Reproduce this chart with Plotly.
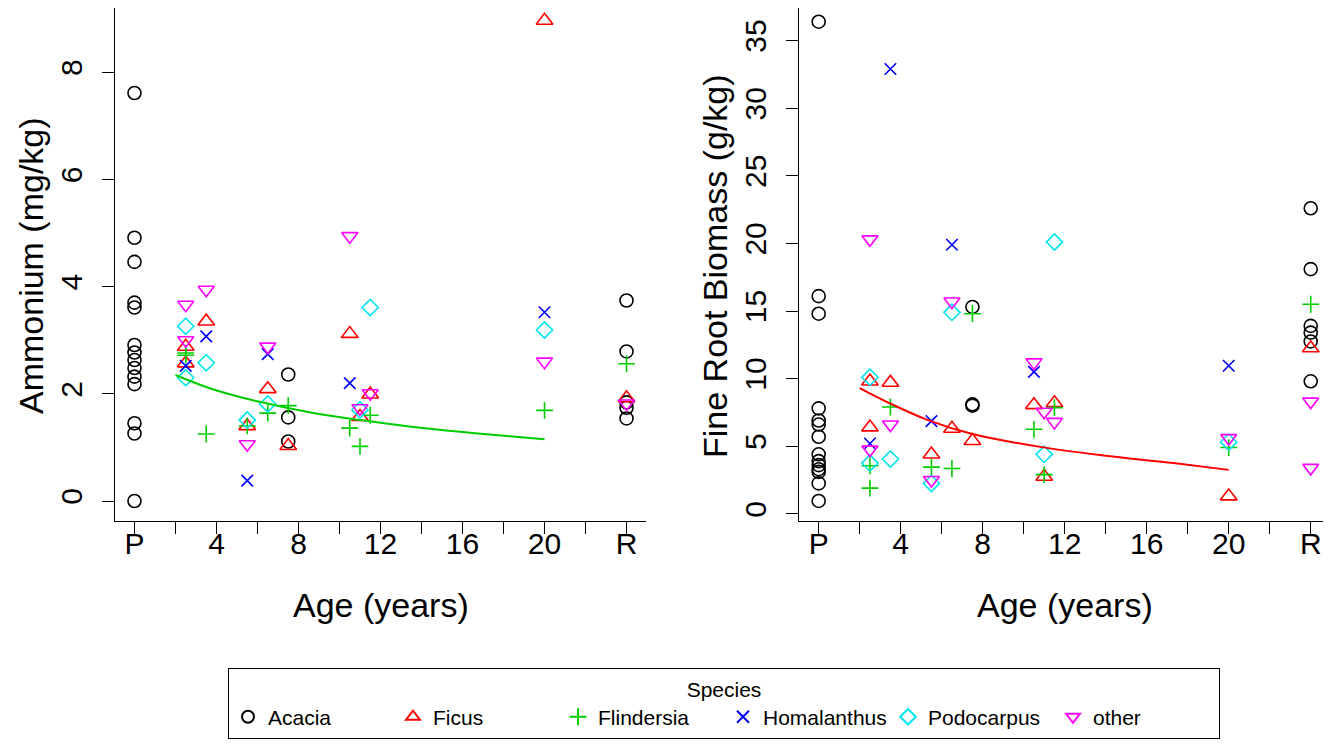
import plotly.graph_objects as go

# ---------------- data (ages: P = pasture -> 0, R = rainforest -> 24) ----------------
species = ["Acacia", "Ficus", "Flindersia", "Homalanthus", "Podocarpus", "other"]

acacia_amm_x = [0, 0, 0, 0, 0, 0, 0, 0, 0, 0, 0, 0, 0, 0, 7.5, 7.5, 7.5, 24, 24, 24, 24, 24]
acacia_amm_y = [7.61, 4.91, 4.46, 3.70, 3.61, 2.91, 2.77, 2.63, 2.48, 2.32, 2.18, 1.45, 1.26, 0.00,
                2.36, 1.56, 1.11, 3.74, 2.79, 1.84, 1.74, 1.54]
acacia_root_x = [0, 0, 0, 0, 0, 0, 0, 0, 0, 0, 0, 0, 0, 0, 7.5, 7.5, 7.5, 24, 24, 24, 24, 24, 24]
acacia_root_y = [36.4, 16.1, 14.8, 7.8, 6.9, 6.6, 5.7, 4.4, 3.9, 3.6, 3.3, 3.1, 2.25, 0.95,
                 15.3, 8.1, 8.0, 22.6, 18.1, 13.9, 13.4, 12.75, 9.8]

ficus_x = [2.5, 2.5, 3.5, 5.5, 6.5, 7.5, 10.5, 11, 11.5, 20, 24]
ficus_amm_y = [2.88, 2.57, 3.35, 1.40, 2.09, 1.03, 3.12, 1.57, 1.99, 8.96, 1.92]
ficus_root_y = [9.8, 6.4, 9.7, 4.4, 6.3, 5.4, 8.05, 2.75, 8.2, 1.3, 12.25]

flind_x = [2.5, 2.5, 3.5, 5.5, 6.5, 7.5, 10.5, 11, 11.5, 20, 24]
flind_amm_y = [2.76, 2.72, 1.25, 1.40, 1.64, 1.78, 1.36, 1.02, 1.60, 1.69, 2.56]
flind_root_y = [3.55, 1.9, 7.9, 3.45, 3.35, 14.8, 6.25, 2.9, 7.85, 4.9, 15.5]

homal_x = [2.5, 3.5, 5.5, 6.5, 10.5, 20]
homal_amm_y = [2.52, 3.07, 0.38, 2.74, 2.20, 3.52]
homal_root_y = [5.2, 32.9, 6.85, 19.9, 10.5, 10.95]

podo_x = [2.5, 2.5, 3.5, 5.5, 6.5, 11, 11.5, 20]
podo_amm_y = [3.26, 2.30, 2.58, 1.51, 1.81, 1.70, 3.61, 3.19]
podo_root_y = [10.1, 3.75, 4.05, 2.25, 14.9, 4.4, 20.1, 5.3]

other_amm_x = [2.5, 2.5, 3.5, 5.5, 6.5, 10.5, 11, 11.5, 20, 24]
other_amm_y = [3.66, 3.00, 3.94, 1.06, 2.88, 4.94, 1.73, 2.01, 2.60, 1.82]
other_root_x = [2.5, 2.5, 3.5, 5.5, 6.5, 10.5, 11, 11.5, 20, 24, 24]
other_root_y = [20.3, 4.75, 6.6, 2.5, 15.7, 11.2, 7.55, 6.8, 5.6, 8.3, 3.4]

# fitted curves
amm_fit_age = [2.0, 3.7, 6.1, 8.6, 11.0, 13.4, 15.9, 18.3, 20.0]
amm_fit_val = [2.35, 2.10, 1.85, 1.65, 1.51, 1.39, 1.29, 1.21, 1.15]
root_fit_age = [2.0, 3.5, 5.3, 7.5, 10.8, 14.0, 17.3, 20.0]
root_fit_val = [9.3, 8.15, 6.95, 5.9, 4.95, 4.3, 3.75, 3.25]

x_tickvals = [0, 2, 4, 6, 8, 10, 12, 14, 16, 18, 20, 22, 24]
x_ticktext = ["P", "", "4", "", "8", "", "12", "", "16", "", "20", "", "R"]
amm_ticks = [0, 2, 4, 6, 8]
root_ticks = [0, 5, 10, 15, 20, 25, 30, 35]

# ---------------- styling ----------------
# the page body has an 8px margin; the figure is sized so it fills the window from there
OFF = 8
W, H = 1331 - OFF, 748 - OFF
FONT = "Liberation Sans, Arial, Helvetica, sans-serif"
colors = {"Acacia": "#000000", "Ficus": "#FF0000", "Flindersia": "#00CD00",
          "Homalanthus": "#0000FF", "Podocarpus": "#00E5EE", "other": "#FF00FF"}
symbols = {"Acacia": "circle-open", "Ficus": "triangle-up-open", "Flindersia": "cross-thin-open",
           "Homalanthus": "x-thin-open", "Podocarpus": "diamond-open", "other": "triangle-down-open"}
sizes = {"Acacia": 13, "Ficus": 14.5, "Flindersia": 12, "Homalanthus": 11.5,
         "Podocarpus": 12.5, "other": 14}

series = {
    "Acacia": (acacia_amm_x, acacia_amm_y, acacia_root_x, acacia_root_y),
    "Ficus": (ficus_x, ficus_amm_y, ficus_x, ficus_root_y),
    "Flindersia": (flind_x, flind_amm_y, flind_x, flind_root_y),
    "Homalanthus": (homal_x, homal_amm_y, homal_x, homal_root_y),
    "Podocarpus": (podo_x, podo_amm_y, podo_x, podo_root_y),
    "other": (other_amm_x, other_amm_y, other_root_x, other_root_y),
}

fig = go.Figure()

for sp in species:
    ax, ay, rx, ry = series[sp]
    mk = dict(symbol=symbols[sp], size=sizes[sp], color=colors[sp],
              line=dict(color=colors[sp], width=1.6))
    fig.add_trace(go.Scatter(x=ax, y=ay, mode="markers", name=sp, legendgroup=sp,
                             marker=mk, xaxis="x", yaxis="y", showlegend=True))
    fig.add_trace(go.Scatter(x=rx, y=ry, mode="markers", name=sp, legendgroup=sp,
                             marker=mk, xaxis="x2", yaxis="y2", showlegend=False))

fig.add_trace(go.Scatter(x=amm_fit_age, y=amm_fit_val, mode="lines", line_shape="spline",
                         line=dict(color="#00CD00", width=2), xaxis="x", yaxis="y",
                         showlegend=False, hoverinfo="skip"))
fig.add_trace(go.Scatter(x=root_fit_age, y=root_fit_val, mode="lines", line_shape="spline",
                         line=dict(color="#FF0000", width=2), xaxis="x2", yaxis="y2",
                         showlegend=False, hoverinfo="skip"))

def px_x(p):
    return (p - OFF) / W

def px_y(p):
    return 1 - (p - OFF) / H

top_px, bot_px = 8.3, 520.7
ydom = [px_y(bot_px), min(1.0, px_y(top_px))]

axis_common = dict(showline=True, linecolor="black", linewidth=1.3, ticks="outside",
                   ticklen=12, tickwidth=1.3, tickcolor="black", showgrid=False,
                   zeroline=False, tickfont=dict(family=FONT, size=30, color="black"),
                   automargin=False)

fig.update_layout(
    width=W, height=H,
    margin=dict(l=0, r=0, t=0, b=0),
    paper_bgcolor="white", plot_bgcolor="white",
    font=dict(family=FONT, color="black"),
    xaxis=dict(domain=[px_x(114.8), px_x(646.2)], range=[-0.96, 24.96], anchor="y",
               tickvals=x_tickvals, ticktext=x_ticktext, ticklabelstandoff=-16, **axis_common),
    yaxis=dict(domain=ydom, range=[-0.367, 9.19], anchor="x", tickvals=amm_ticks,
               tickangle=-90, ticklabelstandoff=8, **axis_common),
    xaxis2=dict(domain=[px_x(799), px_x(1330.4)], range=[-0.96, 24.96], anchor="y2",
                tickvals=x_tickvals, ticktext=x_ticktext, ticklabelstandoff=-16, **axis_common),
    yaxis2=dict(domain=ydom, range=[-0.51, 37.39], anchor="x2", tickvals=root_ticks,
                tickangle=-90, ticklabelstandoff=8, **axis_common),
    legend=dict(orientation="h", x=px_x(228), xanchor="left", y=px_y(668), yanchor="top",
                bordercolor="black", borderwidth=1.3, bgcolor="white",
                font=dict(family=FONT, size=21, color="black"),
                title=dict(text="Species", side="top center",
                           font=dict(family=FONT, size=21, color="black")),
                entrywidth=120, entrywidthmode="pixels", itemsizing="constant"),
    showlegend=True,
)

title_font = dict(family=FONT, size=34, color="black")
fig.add_annotation(text="Age (years)", x=px_x(380.5), y=px_y(605), xref="paper", yref="paper",
                   showarrow=False, xanchor="center", yanchor="middle", font=title_font)
fig.add_annotation(text="Age (years)", x=px_x(1064.7), y=px_y(605), xref="paper", yref="paper",
                   showarrow=False, xanchor="center", yanchor="middle", font=title_font)
fig.add_annotation(text="Ammonium (mg/kg)", x=px_x(31), y=px_y(266), xref="paper", yref="paper",
                   showarrow=False, xanchor="center", yanchor="middle", textangle=-90, font=title_font)
fig.add_annotation(text="Fine Root Biomass (g/kg)", x=px_x(715), y=px_y(266), xref="paper",
                   yref="paper", showarrow=False, xanchor="center", yanchor="middle",
                   textangle=-90, font=title_font)

fig.write_html("out.html")
